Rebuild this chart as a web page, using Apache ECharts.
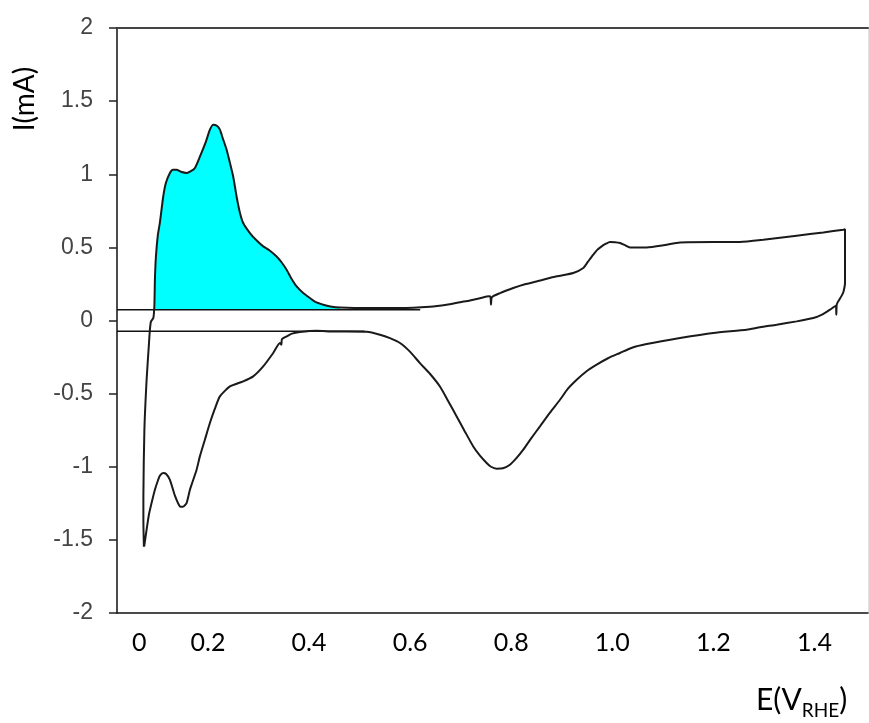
<!DOCTYPE html>
<html>
<head>
<meta charset="utf-8">
<script src="https://cdn.jsdelivr.net/npm/echarts@6/dist/echarts.min.js"></script>
<style>
html,body{margin:0;padding:0;background:#fff;}
#chart{width:869px;height:723px;}
</style>
</head>
<body>
<div id="chart"></div>
<script>
// ---- data (E in V vs RHE, I in mA) ----
const anodicE = [0.0732,0.0722,0.0722,0.0742,0.0786,0.0831,0.0851,0.0871,0.0920,0.0940,
  0.0950,0.0970,0.1009,0.1049,0.1114,0.1168,0.1247,0.1306,0.1379,0.1464,
  0.1577,0.1662,0.1742,0.1840,0.1959,0.2038,0.2104,0.2177,0.2236,0.2296,
  0.2369,0.2434,0.2500,0.2567,0.2632,0.2697,0.2830,0.2949,0.3093,0.3226,
  0.3358,0.3463,0.3556,0.3641,0.3754,0.3879,0.4017,0.4136,0.4281,0.4453,
  0.4611,0.5140,0.5799,0.6392,0.6723,0.6986,0.7184,0.7382,0.7560,0.7590,
  0.7600,0.7619,0.7778,0.8041,0.8272,0.8504,0.8900,0.9228,0.9426,0.9519,
  0.9624,0.9697,0.9790,0.9875,0.9954,1.0053,1.0152,1.0251,1.0350,1.0681,
  1.1009,1.1340,1.1999,1.2527,1.2988,1.3649,1.4176,1.4572,1.4605];
const anodicI = [-1.547,-1.362,-1.205,-0.747,-0.405,-0.165,-0.063,-0.008,0.019,0.108,
  0.279,0.436,0.587,0.669,0.846,0.942,1.009,1.031,1.031,1.017,
  1.009,1.021,1.043,1.120,1.223,1.305,1.339,1.332,1.305,1.243,
  1.168,1.079,0.983,0.846,0.737,0.667,0.598,0.552,0.507,0.477,
  0.438,0.395,0.347,0.293,0.233,0.190,0.154,0.125,0.108,0.094,
  0.089,0.085,0.085,0.094,0.108,0.125,0.137,0.152,0.165,0.163,
  0.108,0.159,0.187,0.222,0.248,0.267,0.302,0.325,0.359,0.402,
  0.450,0.481,0.507,0.525,0.537,0.535,0.530,0.515,0.500,0.500,
  0.514,0.534,0.537,0.537,0.552,0.580,0.602,0.621,0.624];
const cathodicE = [1.4605,1.4605,1.4575,1.4540,1.4467,1.4441,1.4433,1.4423,1.4308,1.4150,
  1.3978,1.3649,1.3253,1.2923,1.2660,1.1999,1.1340,1.0681,1.0390,1.0152,
  0.9915,0.9691,0.9479,0.9296,0.9123,0.8965,0.8767,0.8569,0.8391,0.8239,
  0.8094,0.7975,0.7837,0.7712,0.7600,0.7514,0.7382,0.7249,0.7085,0.6921,
  0.6749,0.6590,0.6392,0.6194,0.5996,0.5799,0.5601,0.5403,0.5145,0.4473,
  0.4150,0.3820,0.3661,0.3556,0.3463,0.3453,0.3424,0.3291,0.3093,0.2895,
  0.2697,0.2434,0.2236,0.2137,0.2038,0.1939,0.1840,0.1775,0.1682,0.1643,
  0.1577,0.1504,0.1445,0.1346,0.1247,0.1168,0.1114,0.1049,0.1015,0.0950,
  0.0885,0.0831,0.0786,0.0738];
const cathodicI = [0.484,0.256,0.197,0.170,0.129,0.108,0.040,0.101,0.074,0.040,
  0.017,-0.006,-0.029,-0.046,-0.063,-0.085,-0.120,-0.161,-0.186,-0.222,
  -0.258,-0.302,-0.350,-0.405,-0.466,-0.542,-0.630,-0.724,-0.808,-0.883,
  -0.945,-0.986,-1.010,-1.013,-1.000,-0.974,-0.924,-0.861,-0.760,-0.656,
  -0.548,-0.451,-0.364,-0.291,-0.213,-0.154,-0.121,-0.097,-0.077,-0.075,
  -0.070,-0.079,-0.090,-0.109,-0.128,-0.165,-0.154,-0.222,-0.314,-0.382,
  -0.416,-0.451,-0.519,-0.603,-0.701,-0.815,-0.929,-1.020,-1.116,-1.157,
  -1.248,-1.273,-1.271,-1.198,-1.089,-1.048,-1.043,-1.061,-1.089,-1.157,
  -1.246,-1.328,-1.430,-1.545];

// integration baselines (mA) and their potential range (V)
const upperBaseline = 0.074, upperBaselineEnd = 0.62;
const lowerBaseline = -0.073, lowerBaselineEnd = 0.51;
// shaded H-desorption region (V)
const fillRange = [0.094, 0.47];

// axes
const xMin = 0.02, xMax = 1.506;
const yMin = -2, yMax = 2, yStep = 0.5;
const xTickLabels = ['0','0.2','0.4','0.6','0.8','1.0','1.2','1.4'];
// where each x label sits ("0" is shifted right of the axis, as in the reference)
const xTickAt = [0.064,0.2,0.4,0.6,0.8,1.0,1.2,1.4];

// ---- build ----
const loop = anodicE.map((e,k)=>[e,anodicI[k]])
  .concat(cathodicE.map((e,k)=>[e,cathodicI[k]]));
const fillData = anodicE.map((e,k)=>[e,anodicI[k]])
  .filter(p=>p[0]>=fillRange[0] && p[0]<=fillRange[1]);

const chart = echarts.init(document.getElementById('chart'), null, {renderer:'canvas'});
chart.setOption({
  animation:false,
  backgroundColor:'#ffffff',
  grid:{left:117, right:1, top:28, bottom:110, containLabel:false},
  xAxis:[{
    type:'value', min:xMin, max:xMax, position:'bottom',
    axisLine:{show:true, onZero:false, lineStyle:{color:'#111', width:1.5}},
    axisTick:{show:false},
    splitLine:{show:false},
    axisLabel:{
      customValues:xTickAt,
      margin:17,
      color:'#000', fontFamily:'Lato', fontSize:25,
      formatter:function(v){
        for(let k=0;k<xTickAt.length;k++){ if(Math.abs(xTickAt[k]-v)<1e-6) return xTickLabels[k]; }
        return '';
      }
    }
  },{
    type:'value', min:xMin, max:xMax, position:'top',
    axisLine:{show:true, onZero:false, lineStyle:{color:'#444', width:2}},
    axisTick:{show:false}, axisLabel:{show:false}, splitLine:{show:false}
  }],
  yAxis:[{
    type:'value', min:yMin, max:yMax, interval:yStep, position:'left',
    axisLine:{show:true, onZero:false, lineStyle:{color:'#111', width:1.5}},
    axisTick:{show:true, inside:false, length:8, lineStyle:{color:'#222', width:1.5}},
    splitLine:{show:false},
    axisLabel:{margin:24, color:'#444', fontFamily:'Liberation Sans', fontSize:23}
  },{
    type:'value', min:yMin, max:yMax, position:'right',
    axisLine:{show:true, onZero:false, lineStyle:{color:'#e2e2e2', width:1}},
    axisTick:{show:false}, axisLabel:{show:false}, splitLine:{show:false}
  }],
  graphic:[{
    type:'text', x:25, y:99, rotation:Math.PI/2,
    style:{text:'I(mA)', fontFamily:'Lato', fontSize:28, fill:'#000', align:'center', verticalAlign:'middle'}
  },{
    type:'text', left:756, top:685,
    style:{
      text:'{a|E(V}{b|RHE}{a|)}', fill:'#000',
      rich:{
        a:{fontFamily:'Lato', fontSize:30, lineHeight:40, fill:'#000'},
        b:{fontFamily:'Lato', fontSize:19, lineHeight:20, verticalAlign:'bottom', fill:'#000'}
      }
    }
  }],
  series:[{
    name:'fill', type:'line', data:fillData, symbol:'none', smooth:0.2, z:1,
    lineStyle:{width:0},
    areaStyle:{origin:upperBaseline, color:'#00ffff', opacity:1}
  },{
    name:'upperBaseline', type:'line', symbol:'none', z:2,
    data:[[xMin,upperBaseline],[upperBaselineEnd,upperBaseline]],
    lineStyle:{color:'#111', width:1.6}
  },{
    name:'lowerBaseline', type:'line', symbol:'none', z:2,
    data:[[xMin,lowerBaseline],[lowerBaselineEnd,lowerBaseline]],
    lineStyle:{color:'#111', width:1.6}
  },{
    name:'CV', type:'line', data:loop, symbol:'none', smooth:0.2, z:3,
    lineStyle:{color:'#1a1a1a', width:2}
  }]
});
</script>
</body>
</html>
